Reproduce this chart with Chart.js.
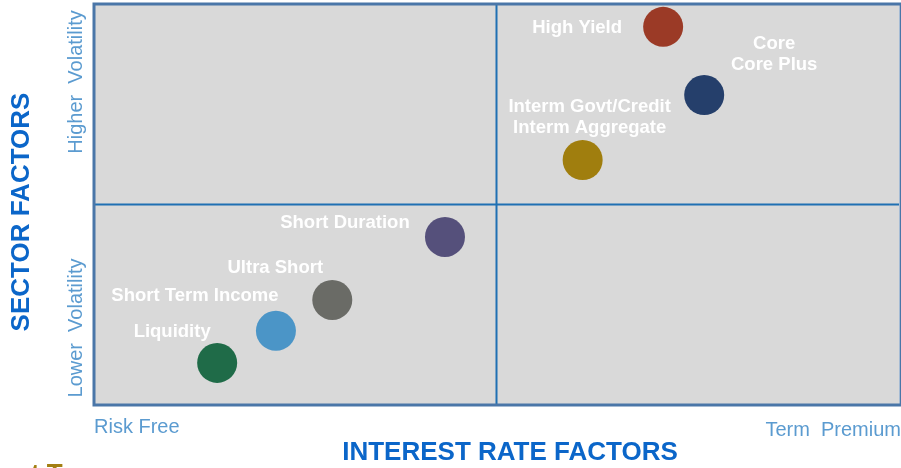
<!DOCTYPE html>
<html>
<head>
<meta charset="utf-8">
<script src="https://cdn.jsdelivr.net/npm/chart.js@4"></script>
<style>
  html, body { margin: 0; padding: 0; background: #fff; }
  #wrap { width: 901px; height: 468px; position: relative; }
</style>
</head>
<body>
<div id="wrap"><canvas id="quadrant"></canvas></div>
<script>
// strategies, plotted on interest-rate factor (x) vs sector factor (y), 0-10 scale
const strategies = ['Liquidity', 'Short Term Income', 'Ultra Short', 'Short Duration',
  'Interm Govt/Credit\nInterm Aggregate', 'Core\nCore Plus', 'High Yield']
const rateFactor = [1.53, 2.26, 2.96, 4.36, 6.07, 7.58, 7.07]
const sectorFactor = [1.05, 1.85, 2.62, 4.19, 6.11, 7.73, 9.43]
const dotColors = ['#1f6b48', '#4b95c7', '#6a6b66', '#55507b', '#a07e0e', '#253f6b', '#9b3a26']

// where each label sits relative to its dot (px)
const labelShift = [[-45, -31], [-81, -35], [-57, -32], [-100, -14], [7, -43], [70, -41], [-86, 1]]

const axisBlue = '#0b66c9'
const softBlue = '#5b9bd0'

const quadrantPlugin = {
  id: 'quadrant',
  beforeDatasetsDraw(chart) {
    const { ctx, chartArea: a, scales } = chart
    ctx.save()
    ctx.fillStyle = '#d9d9d9'
    ctx.fillRect(a.left, a.top, a.right - a.left, a.bottom - a.top)
    // midlines
    ctx.strokeStyle = '#1f70b3'
    ctx.lineWidth = 2
    const mx = scales.x.getPixelForValue(5)
    const my = scales.y.getPixelForValue(5)
    ctx.beginPath()
    ctx.moveTo(mx, a.top); ctx.lineTo(mx, a.bottom)
    ctx.moveTo(a.left, my); ctx.lineTo(a.right, my)
    ctx.stroke()
    // frame
    ctx.strokeStyle = '#4a76a8'
    ctx.lineWidth = 3
    ctx.strokeRect(a.left, a.top, a.right - a.left + 2, a.bottom - a.top)
    ctx.restore()
  },
  afterDraw(chart) {
    const { ctx } = chart
    const meta = chart.getDatasetMeta(0)
    ctx.save()
    // point labels
    ctx.fillStyle = '#ffffff'
    ctx.font = 'bold 18.5px "Liberation Sans", Arial, sans-serif'
    ctx.textAlign = 'center'
    ctx.textBaseline = 'middle'
    meta.data.forEach((pt, i) => {
      const lines = strategies[i].split('\n')
      const lh = 21
      const cy = pt.y + labelShift[i][1] - (lines.length - 1) * lh / 2
      lines.forEach((ln, j) => ctx.fillText(ln, pt.x + labelShift[i][0], cy + j * lh))
    })

    // y axis titles
    ctx.save()
    ctx.translate(22, 212)
    ctx.rotate(-Math.PI / 2)
    ctx.fillStyle = axisBlue
    ctx.font = 'bold 26px "Liberation Sans", Arial, sans-serif'
    ctx.fillText('SECTOR FACTORS', 0, 0)
    ctx.restore()

    ctx.fillStyle = softBlue
    ctx.font = '20px "Liberation Sans", Arial, sans-serif'
    ;[['Higher  Volatility', 82], ['Lower  Volatility', 328]].forEach(([t, y]) => {
      ctx.save()
      ctx.translate(76, y)
      ctx.rotate(-Math.PI / 2)
      ctx.fillText(t, 0, 0)
      ctx.restore()
    })

    // x axis titles
    ctx.textAlign = 'left'
    ctx.fillText('Risk Free', 94, 427)
    ctx.textAlign = 'right'
    ctx.fillText('Term  Premium', 901, 430)
    ctx.textAlign = 'center'
    ctx.fillStyle = axisBlue
    ctx.font = 'bold 26px "Liberation Sans", Arial, sans-serif'
    ctx.fillText('INTEREST RATE FACTORS', 510, 453)

    // cut-off slide footer
    ctx.textAlign = 'left'
    ctx.textBaseline = 'alphabetic'
    ctx.fillStyle = '#a37f12'
    ctx.font = 'bold 26px "Liberation Sans", Arial, sans-serif'
    ctx.fillText('nt Team', 15, 482)
    ctx.restore()
  }
}

new Chart(document.getElementById('quadrant'), {
  type: 'scatter',
  data: {
    datasets: [{
      data: rateFactor.map((x, i) => ({ x: x, y: sectorFactor[i] })),
      backgroundColor: dotColors,
      borderWidth: 0,
      pointRadius: 20,
      pointHoverRadius: 20
    }]
  },
  options: {
    responsive: true,
    maintainAspectRatio: false,
    animation: false,
    layout: { autoPadding: false, padding: { left: 94, top: 4, right: 2, bottom: 63 } },
    plugins: { legend: { display: false }, tooltip: { enabled: false } },
    scales: {
      x: { display: false, min: 0, max: 10 },
      y: { display: false, min: 0, max: 10 }
    }
  },
  plugins: [quadrantPlugin]
})
</script>
</body>
</html>
